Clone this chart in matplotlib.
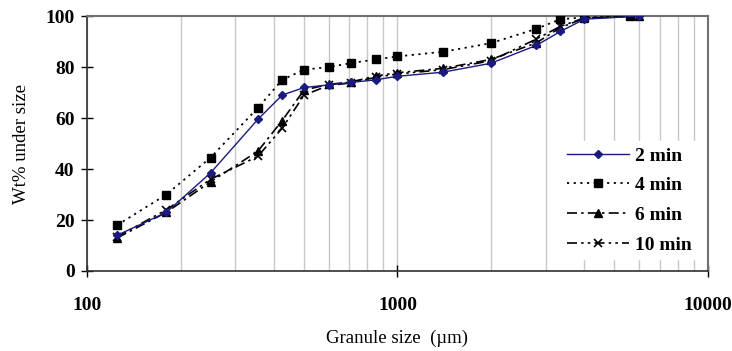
import matplotlib
matplotlib.use("Agg")
import matplotlib.pyplot as plt
from matplotlib.ticker import FixedLocator, NullFormatter

plt.rcParams['font.family'] = ['Liberation Serif', 'DejaVu Serif']
plt.rcParams['font.weight'] = 'bold'

# sieve sizes (um) and cumulative wt% under size for each granulation time
sizes_a = [125, 180, 250, 355, 425, 500, 600, 710, 850, 1000, 1400, 2000, 2800, 3350, 4000, 6000]
sizes_b = [125, 180, 250, 355, 425, 500, 600, 710, 850, 1000, 1400, 2000, 2800, 3350, 4000, 5600]

min2 = [14, 23, 38.5, 59.5, 69, 72, 73, 74, 75, 76.4, 78, 81.5, 88.5, 94, 98.8, 100]
min4 = [18, 30, 44.5, 64, 75, 79, 80, 81.6, 83, 84.2, 86, 89.4, 95, 98.8, 99.5, 100]
min6 = [13, 23, 35, 47, 59, 71, 73.2, 74.2, 76.5, 77.8, 79.5, 83, 89.5, 95.5, 99.2, 100]
min10 = [13.5, 24, 36, 45, 56, 69, 72.8, 73.8, 76, 77.3, 79, 82.5, 91, 96, 99.3, 100]

series_labels = ['2 min', '4 min', '6 min', '10 min']
x_ticks = [100, 1000, 10000]
y_ticks = [0, 20, 40, 60, 80, 100]

fig = plt.figure(figsize=(7.32, 3.51), dpi=100)
ax = fig.add_axes([0.119, 0.228, 0.848, 0.726])

ax.plot(sizes_a, min2, color='#1a1a80', lw=1.0, marker='D', ms=4,
        mfc='#1a1a80', mec='#1a1a80', label=series_labels[0], zorder=5)
ax.plot(sizes_b, min4, color='black', lw=1.3, ls=(0, (1.2, 2.5)), marker='s', ms=6,
        label=series_labels[1], zorder=4)
ax.plot(sizes_a, min6, color='black', lw=1.2, ls=(0, (6, 2.5, 1.5, 2.5)), marker='^', ms=6,
        label=series_labels[2], zorder=4)
ax.plot(sizes_a, min10, color='black', lw=1.2, ls=(0, (6, 2.5, 1.5, 2.5, 1.5, 2.5)), marker='x',
        ms=5.5, mew=1.2, label=series_labels[3], zorder=4)

ax.set_xscale('log')
ax.set_xlim(100, 10000)
ax.set_ylim(0, 100)

minor = [m * d for d in (100, 1000) for m in range(2, 10)]
ax.xaxis.set_major_locator(FixedLocator(x_ticks))
ax.xaxis.set_minor_locator(FixedLocator(minor))
ax.xaxis.set_minor_formatter(NullFormatter())
ax.set_xticklabels([str(t) for t in x_ticks])
ax.set_yticks(y_ticks)

ax.grid(True, which='both', axis='x', color='#c8c8c8', lw=1.0, zorder=0)
ax.tick_params(which='major', direction='inout', length=8, width=1.0, labelsize=14, pad=5)
ax.tick_params(axis='x', which='major', pad=15)
ax.tick_params(which='minor', length=0)

for side in ('top', 'right'):
    ax.spines[side].set_color('#707070')
    ax.spines[side].set_linewidth(1.5)
for side in ('left', 'bottom'):
    ax.spines[side].set_color('#303030')
    ax.spines[side].set_linewidth(1.2)

ax.set_xlabel('Granule size  (\u00b5m)', fontsize=13.5, labelpad=11)
ax.set_ylabel('Wt% under size', fontsize=13.5, labelpad=11)

leg = ax.legend(loc='lower right', bbox_to_anchor=(0.99, 0.03), frameon=True, fontsize=14,
                numpoints=1, handlelength=3.2, handletextpad=0.3, labelspacing=0.62,
                borderpad=0.3, borderaxespad=0.2)
leg.get_frame().set_edgecolor('white')
leg.get_frame().set_facecolor('white')
leg.get_frame().set_alpha(1.0)

fig.savefig('out.png', dpi=100)
